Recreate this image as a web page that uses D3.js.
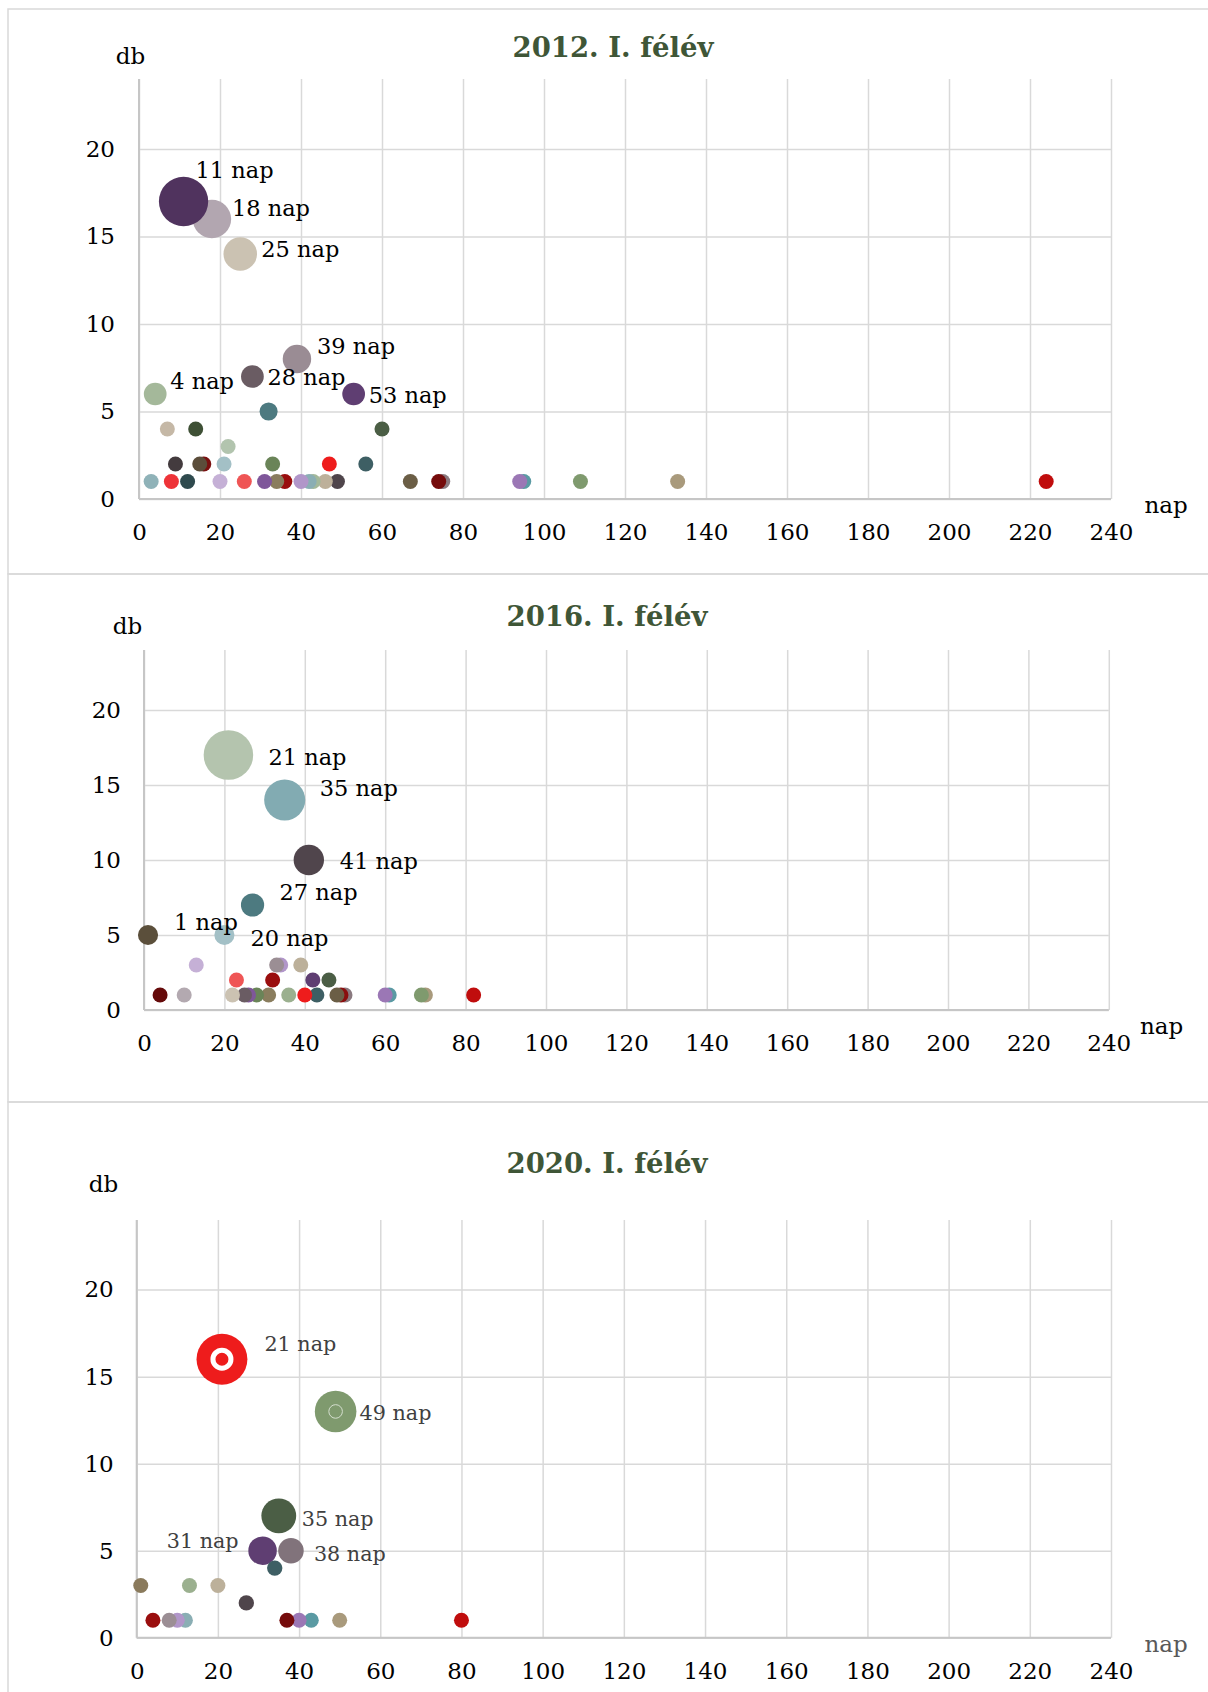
<!DOCTYPE html>
<html>
<head>
<meta charset="utf-8">
<script src="https://d3js.org/d3.v7.min.js"></script>
<style>
  body { margin: 0; background: #ffffff; }
  svg { display: block; font-family: "DejaVu Serif", Georgia, serif; }
  .frame { fill: none; stroke: #d9d9d9; stroke-width: 1.5; }
  .grid line { stroke: #d9d9d9; stroke-width: 1.5; }
  .grid .domain { display: none; }
  .tick text { fill: #000; }
  .baseline { stroke: #c6c6c6; stroke-width: 2; }
  .title { font-weight: bold; fill: #3f5637; font-size: 27.5px; }
</style>
</head>
<body>
<script>
// tengelyek beosztasa
var xTicks = [0, 20, 40, 60, 80, 100, 120, 140, 160, 180, 200, 220, 240];
var yTicks = [0, 5, 10, 15, 20];

// 2012. I. felev (rajzolasi sorrendben)
var nap2012 = [224, 133, 109, 95, 94, 75, 74, 67, 60, 56, 53, 49, 47, 46, 43, 42, 40, 39, 36, 34, 33, 32, 31, 28, 26, 25, 22, 21, 20, 18, 16, 15, 14, 12, 11, 9, 8, 7, 4, 3];
var db2012 = [1, 1, 1, 1, 1, 1, 1, 1, 4, 2, 6, 1, 2, 1, 1, 1, 1, 8, 1, 1, 2, 5, 1, 7, 1, 14, 3, 2, 1, 16, 2, 2, 4, 1, 17, 2, 1, 4, 6, 1];
var meret2012 = [1, 1, 1, 1, 1, 1, 1, 1, 1, 1, 2.3, 1, 1, 1, 1, 1, 1, 3.6, 1, 1, 1, 1.45, 1, 2.3, 1, 5, 1, 1, 1, 6.6, 1, 1, 1, 1, 10.8, 1, 1, 1, 2.3, 1];
var szin2012 = ["#c00d0d", "#a99a7c", "#7f9a6e", "#5a9aa3", "#9b77b5", "#8a7a80", "#750b0b", "#6b5e46", "#4b5e45", "#3e5f64",
                "#5f3e72", "#4f454b", "#ee1c1c", "#bdb09a", "#a3b89a", "#8aaeb4", "#b196c9", "#9a8c94", "#9a0e0e", "#8a7d5e",
                "#6a8458", "#4d7a80", "#7f579a", "#6a5c63", "#ef5555", "#cbc2b2", "#b2c4ae", "#a3c0c6", "#c5b0d6", "#b2a6b0",
                "#7a1010", "#5b4d3a", "#3e5035", "#2f4a4e", "#50335e", "#433b3e", "#ee3338", "#c5b8a6", "#a4b89a", "#8fb2b8"];
var cimke2012 = [11, 18, 25, 39, 28, 4, 53];
var eltolas2012 = [[12, -31], [20, -11], [21, -5], [20, -12.5], [15, 1], [15, -13], [15, 1]];

// 2016. I. felev
var nap2016 = [82, 70, 69, 61, 60, 50, 49, 48, 46, 43, 42, 41, 40, 39, 36, 35, 34, 33, 32, 31, 28, 27, 26, 25, 23, 22, 21, 20, 13, 10, 4, 1];
var db2016 = [1, 1, 1, 1, 1, 1, 1, 1, 2, 1, 2, 10, 1, 3, 1, 14, 3, 3, 2, 1, 1, 7, 1, 1, 2, 1, 17, 5, 3, 1, 1, 5];
var meret2016 = [1, 1, 1, 1, 1, 1, 1, 1, 1, 1, 1, 4.1, 1, 1, 1, 7.5, 1, 1, 1, 1, 1, 2.4, 1, 1, 1, 1, 10.9, 1.8, 1, 1, 1, 1.8];
var szin2016 = ["#c00d0d", "#a99a7c", "#7f9a6e", "#5a9aa3", "#9b77b5", "#8a7a80", "#8a0e0e", "#6b5e46", "#4b5e45", "#3e5f64",
                "#5f3e72", "#50454c", "#ee1c1c", "#bcb09a", "#9bb08f", "#82abb2", "#b196c9", "#9b8e94", "#9a0e0e", "#8a7d5e",
                "#6a8458", "#4d7a80", "#7f579a", "#6a5c63", "#ef5555", "#cbc2b2", "#b4c4ae", "#a3c0c6", "#c5b0d6", "#b3a9b0",
                "#650a0a", "#5b4f3b"];
var cimke2016 = [21, 35, 41, 27, 1, 20];
var eltolas2016 = [[40, 2], [35, -12], [31, 1], [27, -13], [26, -13], [26, 3]];

// 2020. I. felev
var nap2020 = [80, 50, 49, 43, 40, 38, 37, 35, 31, 34, 27, 21, 20, 13, 12, 10, 8, 4, 1];
var db2020 = [1, 1, 13, 1, 1, 5, 1, 7, 5, 4, 2, 16, 3, 3, 1, 1, 1, 1, 3];
var meret2020 = [1, 1, 7.7, 1, 1, 2.9, 1, 5.4, 3.6, 1.05, 1.05, 11.5, 1, 1, 1, 1, 1, 1, 1];
var szin2020 = ["#c00d0d", "#a99a7c", "#7f9a6e", "#5a9aa3", "#9b77b5", "#81737b", "#750b0b", "#4b5e45", "#5f3e72", "#3e5f64",
                "#4f454b", "#ee1c1c", "#bcb09a", "#9bb08f", "#8aaeb4", "#b196c9", "#9b8e94", "#9a0e0e", "#8a7a5c"];
var cimke2020 = [21, 49, 35, 31, 38];
var eltolas2020 = [[42.5, -15], [24, 1.5], [23, 3], [-24, -10], [23, 3]];

// kis buborekok a nagyok kozepen (2020)
var kiemeltNap2020 = [21, 49];
var kiemeltDb2020 = [16, 13];
var kiemeltMeret2020 = [1.44, 0.82];

var w = 1208;
var h = 1692;

var svg = d3.select("body")
  .append("svg")
  .attr("width", w)
  .attr("height", h);

// buborek sugar
var rScale = d3.scaleSqrt()
  .domain([0, 1])
  .range([0, 7.5]);

var panels = [
  {title: "2012. I. félév", nap: nap2012, db: db2012, meret: meret2012, szin: szin2012, cimke: cimke2012, eltolas: eltolas2012,
   top: 9, bottom: 574, left: 139, right: 1111, y0: 499, y1: 79, titleX: 613, titleY: 57,
   dbX: 130.6, dbY: 64, napX: 1166, napY: 513, napColor: "#000", labelSize: 22.5, labelColor: "#000", tickPad: 24},
  {title: "2016. I. félév", nap: nap2016, db: db2016, meret: meret2016, szin: szin2016, cimke: cimke2016, eltolas: eltolas2016,
   top: 574, bottom: 1102, left: 144, right: 1108.8, y0: 1010, y1: 650, titleX: 607, titleY: 626,
   dbX: 127.4, dbY: 634, napX: 1161.5, napY: 1034, napColor: "#000", labelSize: 22.5, labelColor: "#000", tickPad: 23},
  {title: "2020. I. félév", nap: nap2020, db: db2020, meret: meret2020, szin: szin2020, cimke: cimke2020, eltolas: eltolas2020,
   top: 1102, bottom: 1710, left: 136.7, right: 1111, y0: 1637.7, y1: 1220, titleX: 607, titleY: 1173,
   dbX: 103.6, dbY: 1192, napX: 1166, napY: 1652, napColor: "#595959", labelSize: 20.7, labelColor: "#404040", tickPad: 23}
];

panels.forEach(function(p, k) {
  drawPanel(p, k);
});

// a kiemelt kozepso buborekok a 2020-as abran
var p3 = panels[2];
var x3 = d3.scaleLinear().domain([0, 240]).range([p3.left, p3.right]);
var y3 = d3.scaleLinear().domain([0, 24]).range([p3.y0, p3.y1]);
svg.append("g")
  .selectAll("circle")
  .data(kiemeltNap2020)
  .enter()
  .append("circle")
  .attr("cx", function(d) { return x3(d); })
  .attr("cy", function(d, i) { return y3(kiemeltDb2020[i]); })
  .attr("r", function(d, i) { return rScale(kiemeltMeret2020[i]); })
  .attr("fill", function(d, i) { return i == 0 ? "#ee1c1c" : "#7f9a6e"; })
  .attr("stroke", function(d, i) { return i == 0 ? "#ffffff" : "#d5dfcf"; })
  .attr("stroke-width", function(d, i) { return i == 0 ? 5 : 1; });

// cimkek a 2020-as abran a kiemelt pontok felett
svg.select(".labels3").raise();

// egy panel megrajzolasa
function drawPanel(p, k) {

  var g = svg.append("g");

  // keret
  g.append("rect")
    .attr("class", "frame")
    .attr("x", 8)
    .attr("y", p.top)
    .attr("width", w + 10)
    .attr("height", p.bottom - p.top);

  var scaleX = d3.scaleLinear()
    .domain([0, 240])
    .range([p.left, p.right]);

  var scaleY = d3.scaleLinear()
    .domain([0, 24])
    .range([p.y0, p.y1]);

  // racsvonalak
  g.append("g")
    .attr("class", "grid")
    .attr("transform", "translate(0," + p.y0 + ")")
    .call(d3.axisBottom(scaleX).tickValues(xTicks).tickSize(-(p.y0 - p.y1)).tickFormat(""));

  g.append("g")
    .attr("class", "grid")
    .attr("transform", "translate(" + p.left + ",0)")
    .call(d3.axisLeft(scaleY).tickValues(yTicks).tickSize(-(p.right - p.left)).tickFormat(""));

  // tengelyvonalak
  g.append("line")
    .attr("class", "baseline")
    .attr("x1", p.left).attr("x2", p.right)
    .attr("y1", p.y0).attr("y2", p.y0);
  g.append("line")
    .attr("class", "baseline")
    .attr("x1", p.left).attr("x2", p.left)
    .attr("y1", p.y1).attr("y2", p.y0);

  // tengely feliratok
  var xAxis = g.append("g")
    .attr("transform", "translate(0," + p.y0 + ")")
    .call(d3.axisBottom(scaleX).tickValues(xTicks).tickSize(0).tickPadding(25))
    .attr("font-family", null)
    .attr("font-size", 23);
  xAxis.select(".domain").remove();

  var yAxis = g.append("g")
    .attr("transform", "translate(" + p.left + ",0)")
    .call(d3.axisLeft(scaleY).tickValues(yTicks).tickSize(0).tickPadding(p.tickPad))
    .attr("font-family", null)
    .attr("font-size", 23);
  yAxis.select(".domain").remove();

  // buborekok
  g.append("g")
    .selectAll("circle")
    .data(p.nap)
    .enter()
    .append("circle")
    .attr("cx", function(d) { return scaleX(d); })
    .attr("cy", function(d, i) { return scaleY(p.db[i]); })
    .attr("r", function(d, i) { return rScale(p.meret[i]); })
    .attr("fill", function(d, i) { return p.szin[i]; });

  // adatcimkek
  g.append("g")
    .attr("class", "labels" + (k + 1))
    .selectAll("text")
    .data(p.cimke)
    .enter()
    .append("text")
    .attr("x", function(d, i) { return scaleX(d) + p.eltolas[i][0]; })
    .attr("y", function(d, i) { return scaleY(p.db[p.nap.indexOf(d)]) + p.eltolas[i][1]; })
    .attr("dy", "0.35em")
    .attr("text-anchor", function(d, i) { return p.eltolas[i][0] < 0 ? "end" : "start"; })
    .attr("font-size", p.labelSize)
    .attr("fill", p.labelColor)
    .text(function(d) { return d + " nap"; });

  // cim
  g.append("text")
    .attr("class", "title")
    .attr("x", p.titleX)
    .attr("y", p.titleY)
    .attr("text-anchor", "middle")
    .text(p.title);

  // tengelycimek
  g.append("text")
    .attr("x", p.dbX)
    .attr("y", p.dbY)
    .attr("text-anchor", "middle")
    .attr("font-size", 23)
    .text("db");

  g.append("text")
    .attr("x", p.napX)
    .attr("y", p.napY)
    .attr("text-anchor", "middle")
    .attr("font-size", 23)
    .attr("fill", p.napColor)
    .text("nap");
}
</script>
</body>
</html>
